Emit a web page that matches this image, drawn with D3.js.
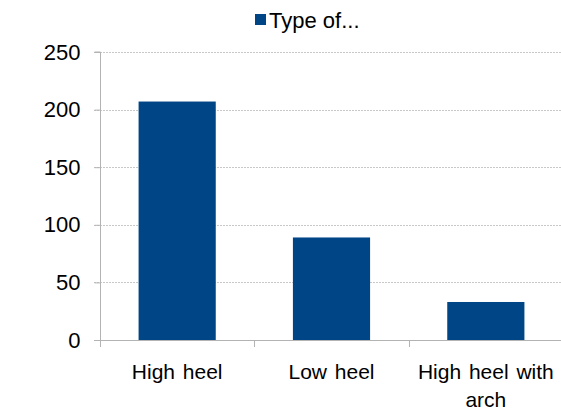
<!DOCTYPE html>
<html><head><meta charset="utf-8">
<script src="https://cdn.jsdelivr.net/npm/d3@7"></script>
<style>body{margin:0;background:#fff}svg{display:block}</style>
</head><body>
<script>
const categories = ["High heel", "Low heel", "High heel with|arch"];
const values = [207, 89, 33];
const yTicks = [0, 50, 100, 150, 200, 250];
const seriesName = "Type of...";

(function() {
const W = 561, H = 411;
const svg = d3.select("body").append("svg").attr("width", W).attr("height", H);
const pl = 100, pr = 563, pt = 52, pb = 340;
const x = d3.scaleBand().domain(categories).range([pl, pr]).paddingInner(0.5).paddingOuter(0.25);
const y = d3.scaleLinear().domain([0, 250]).range([pb, pt]);
const font = "Liberation Sans, Arial, sans-serif";

// gridlines
svg.append("g").selectAll("line").data(yTicks.filter(d => d > 0)).join("line")
  .attr("x1", 94).attr("x2", W).attr("y1", d => Math.round(y(d)) + 0.5).attr("y2", d => Math.round(y(d)) + 0.5)
  .attr("stroke", "#c8c8c8").attr("stroke-width", 1).attr("stroke-dasharray", "2,1");

// bars
svg.append("g").selectAll("rect").data(values).join("rect")
  .attr("x", (d, i) => x(categories[i])).attr("width", x.bandwidth())
  .attr("y", d => y(d)).attr("height", d => y(0) - y(d))
  .attr("fill", "#004586");

// y axis
const yAxis = d3.axisLeft(y).tickValues(yTicks).tickSize(6).tickFormat(d3.format("d"));
const ga = svg.append("g").attr("transform", `translate(${pl + 0.5},0)`).call(yAxis);
ga.select(".domain").attr("stroke", "#b3b3b3").attr("d", `M-6,${pt}H0V${pb}`);
ga.selectAll(".tick line").attr("stroke", "#b3b3b3");
ga.selectAll(".tick text").attr("font-family", font).attr("font-size", 22).attr("fill", "#000").attr("x", -20);

// x axis
const step = x.step();
const bounds = [pl, pl + step, pl + 2 * step, pl + 3 * step];
svg.append("line").attr("x1", 94).attr("x2", W).attr("y1", pb + 0.5).attr("y2", pb + 0.5).attr("stroke", "#b3b3b3");
svg.append("g").selectAll("line").data(bounds).join("line")
  .attr("x1", d => Math.round(d) + 0.5).attr("x2", d => Math.round(d) + 0.5)
  .attr("y1", pb).attr("y2", pb + 7).attr("stroke", "#b3b3b3");
svg.append("g").selectAll("text").data(categories).join("text")
  .attr("font-family", font).attr("font-size", 21).attr("text-anchor", "middle")
  .attr("word-spacing", 2)
  .attr("transform", d => `translate(${x(d) + x.bandwidth() / 2},379)`)
  .each(function(d) {
    d.split("|").forEach((ln, i) => {
      d3.select(this).append("tspan").attr("x", 0).attr("dy", i ? 28 : 0).text(ln);
    });
  });

// legend
svg.append("rect").attr("x", 255).attr("y", 14).attr("width", 11).attr("height", 11).attr("fill", "#004586");
svg.append("text").attr("x", 269).attr("y", 28).attr("font-family", font).attr("font-size", 22).text(seriesName);
})();
</script>
</body></html>
